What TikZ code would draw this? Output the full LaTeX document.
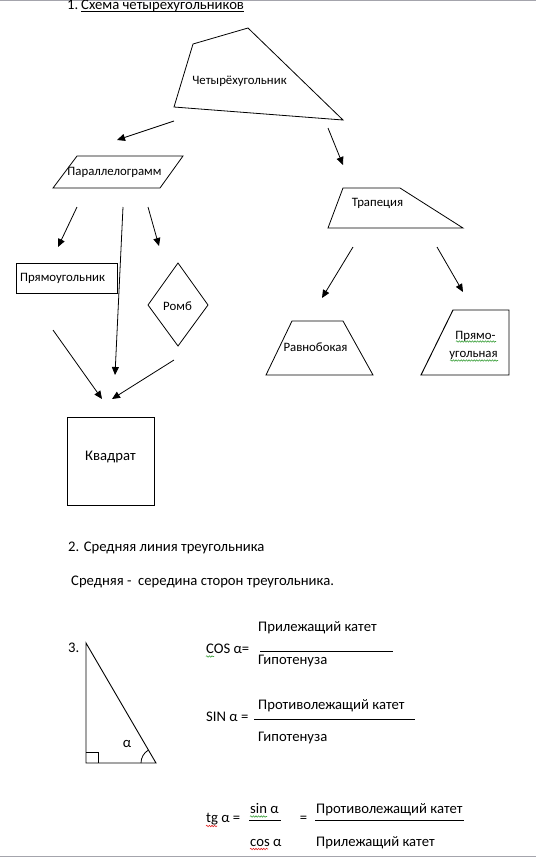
\documentclass[tikz,border=0pt]{standalone}
\usepackage{fontspec}
\setmainfont{Carlito}
\usetikzlibrary{arrows.meta,decorations.pathmorphing}
\definecolor{pageline}{HTML}{A4A4AC}
\definecolor{spellgreen}{HTML}{3CA03C}
\definecolor{spellred}{HTML}{E02020}

\begin{document}
\begin{tikzpicture}[x=1pt,y=-1pt,font=\fontsize{14.67}{17}\selectfont,
lbl/.style={inner sep=0pt,anchor=base,font=\fontsize{12.8}{15}\selectfont},txt/.style={inner sep=0pt,anchor=base west},
shp/.style={draw,line width=0.8pt,line join=miter},box/.style={draw,line width=0.95pt},
arr/.style={-{Triangle[length=8pt,width=7pt]},line width=0.8pt},
squig/.style={decorate,decoration={snake,amplitude=0.7pt,segment length=2.6pt},line width=0.6pt}]
\useasboundingbox (0,0) rectangle (536,860);
\draw[pageline] (0,0.5) -- (536,0.5);
\draw[pageline] (0,856.5) -- (536,856.5);
% 1. scheme
\node[txt] (num1) at (67,9.5) {1.};
\node[txt] (title1) at (81,9.5) {Схема четырехугольников};
\draw[line width=0.6pt] ([yshift=-2.2pt]title1.base west) -- ([yshift=-2.2pt]title1.base east);
\draw[shp] (193,44) -- (248,28) -- (343,120) -- (174,107) -- cycle;
\node[lbl] (quad) at (239.5,84) {Четырёхугольник};
\draw[shp] (77,156) -- (183,156) -- (160,188) -- (53,188) -- cycle;
\node[lbl] (para) at (114.5,175) {Параллелограмм};
\draw[shp] (343,188) -- (400,188) -- (463,228) -- (328,228) -- cycle;
\node[lbl] (trap) at (377.5,206.5) {Трапеция};
\draw[box] (16,263) rectangle (117,293);
\node[lbl] (rect) at (62.5,281) {Прямоугольник};
\draw[shp] (178,263) -- (208,305) -- (178,346) -- (148,305) -- cycle;
\node[lbl] (rhomb) at (177.5,310.5) {Ромб};
\draw[shp] (292,321) -- (343,321) -- (373,375) -- (266,375) -- cycle;
\node[lbl] (iso) at (315.5,351.5) {Равнобокая};
\draw[box] (453,310) -- (509,310) -- (509,375) -- (421,375) -- cycle;
\node[lbl] (right1) at (475.5,339) {Прямо-};
\node[lbl] (right2) at (473.5,357) {угольная};
\draw[squig,spellgreen] (456,341.5) -- (496,341.5);
\draw[squig,spellgreen] (450,360.5) -- (498,360.5);
\draw[box] (67,417) rectangle (154,505);
\node[lbl,font=\fontsize{14.67}{17}\selectfont] (square) at (110.5,460) {Квадрат};
% arrows
\coordinate (q-l) at (174,121); \coordinate (q-r) at (328,128);
\coordinate (p-in) at (117,140); \coordinate (t-in) at (343,165);
\coordinate (p-a) at (77,207); \coordinate (p-b) at (123,207); \coordinate (p-c) at (148,207);
\coordinate (r-in) at (58,247); \coordinate (s-mid) at (115,375); \coordinate (h-in) at (159,246);
\coordinate (t-a) at (353,247); \coordinate (t-b) at (437,247);
\coordinate (iso-in) at (322,298); \coordinate (rt-in) at (463,292);
\coordinate (r-out) at (53,330); \coordinate (h-out) at (174,360);
\coordinate (s-l) at (102,399); \coordinate (s-r) at (112,399);
\draw[arr] (q-l) -- (p-in);
\draw[arr] (q-r) -- (t-in);
\draw[arr] (p-a) -- (r-in);
\draw[arr] (p-b) -- (s-mid);
\draw[arr] (p-c) -- (h-in);
\draw[arr] (t-a) -- (iso-in);
\draw[arr] (t-b) -- (rt-in);
\draw[arr] (r-out) -- (s-l);
\draw[arr] (h-out) -- (s-r);
% 2. midline
\node[txt] (title2) at (68,551) {2. Средняя линия треугольника};
\node[txt] (mid) at (71,585) {Средняя -\ \ середина сторон треугольника.};
% 3. triangle
\node[txt] (num3) at (68,652.5) {3.};
\coordinate (A) at (86,643); \coordinate (C) at (86,763); \coordinate (B) at (156,763);
\draw[line width=0.9pt] (A) -- (C) -- (B) -- cycle;
\draw[line width=0.8pt] (86,752) -- (98,752) -- (98,763);
\draw[line width=0.8pt] (141,763) arc[start angle=180,end angle=239.7,radius=15];
\node[lbl,font=\fontsize{14.67}{17}\selectfont] (alpha) at (127,747) {α};
% formulas
\node[txt] (cos) at (206,653) {COS α=};
\draw[squig,spellgreen] (206,656.5) -- (214,656.5);
\node[txt] (cosnum) at (258,631.5) {Прилежащий катет};
\node[txt] (cosden) at (258,664.5) {Гипотенуза};
\draw[line width=0.7pt] (260,651) -- (393,651);
\node[txt] (sin) at (206,721) {SIN α =};
\node[txt] (sinnum) at (258,709) {Противолежащий катет};
\node[txt] (sinden) at (258,741) {Гипотенуза};
\draw[line width=0.7pt] (254,719) -- (415,719);
\node[txt] (tg) at (206,822.5) {tg α =};
\draw[squig,spellred] (206,826) -- (217,826);
\node[txt] (tgnum) at (250,813) {sin α};
\draw[squig,spellgreen] (250,816.5) -- (267,816.5);
\node[txt] (tgden) at (250,846.5) {cos α};
\draw[squig,spellred] (250,849) -- (268,849);
\draw[line width=0.7pt] (249,820) -- (281,820);
\node[lbl,font=\fontsize{14.67}{17}\selectfont] (eq) at (303.5,822) {=};
\node[txt] (tgnum2) at (316,813) {Противолежащий катет};
\node[txt] (tgden2) at (316,846.5) {Прилежащий катет};
\draw[line width=0.7pt] (315,820) -- (464,820);
\end{tikzpicture}
\end{document}
